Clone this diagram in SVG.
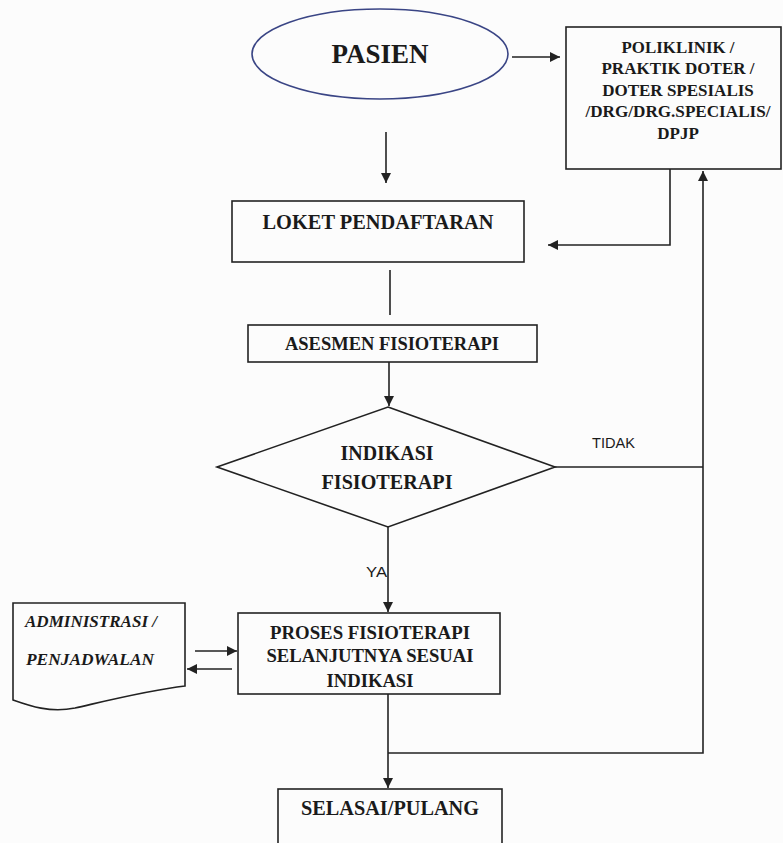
<svg xmlns="http://www.w3.org/2000/svg" width="783" height="843" viewBox="0 0 783 843">
<defs>
<style>
.box{fill:none;stroke:#222;stroke-width:1.6}
.ln{fill:none;stroke:#222;stroke-width:1.6}
.t{font-family:"Liberation Serif","Times New Roman",serif;font-weight:bold;fill:#1a1a1a;text-anchor:middle}
.ti{font-family:"Liberation Serif","Times New Roman",serif;font-weight:bold;font-style:italic;fill:#1a1a1a}
.s{font-family:"Liberation Sans",Arial,sans-serif;fill:#1a1a1a}
</style>
<marker id="ah" viewBox="0 0 10 10" refX="10" refY="5" markerWidth="10" markerHeight="10" markerUnits="userSpaceOnUse" orient="auto">
<path d="M0,0 L10,5 L0,10 z" fill="#222"/>
</marker>
</defs>
<rect x="0" y="0" width="783" height="843" fill="#fcfcfc"/>

<g id="pasien">
<ellipse cx="380" cy="54" rx="128" ry="45" fill="none" stroke="#3a4585" stroke-width="1.6"/>
<text class="t" x="380" y="63" font-size="28" textLength="97" lengthAdjust="spacingAndGlyphs">PASIEN</text>
</g>

<g id="poliklinik">
<rect class="box" x="566" y="27" width="215" height="142"/>
<text class="t" x="678" y="53" font-size="17" textLength="113" lengthAdjust="spacingAndGlyphs">POLIKLINIK /</text>
<text class="t" x="678" y="74" font-size="17">PRAKTIK DOTER /</text>
<text class="t" x="678" y="96" font-size="17">DOTER SPESIALIS</text>
<text class="t" x="678" y="117" font-size="17" textLength="185" lengthAdjust="spacingAndGlyphs">/DRG/DRG.SPECIALIS/</text>
<text class="t" x="678" y="139" font-size="17">DPJP</text>
</g>

<g id="loket">
<rect class="box" x="232" y="201" width="292" height="61"/>
<text class="t" x="378" y="229" font-size="20" textLength="231" lengthAdjust="spacingAndGlyphs">LOKET PENDAFTARAN</text>
</g>

<g id="asesmen">
<rect class="box" x="248" y="325" width="289" height="37"/>
<text class="t" x="392" y="350" font-size="18" textLength="214" lengthAdjust="spacingAndGlyphs">ASESMEN FISIOTERAPI</text>
</g>

<g id="indikasi">
<polygon class="box" points="388,407 555,467 388,527 217,467"/>
<text class="t" x="387" y="460" font-size="20" textLength="93" lengthAdjust="spacingAndGlyphs">INDIKASI</text>
<text class="t" x="387" y="489" font-size="20" textLength="131" lengthAdjust="spacingAndGlyphs">FISIOTERAPI</text>
</g>

<g id="proses">
<rect class="box" x="238" y="613" width="262" height="81"/>
<text class="t" x="370" y="639" font-size="19" textLength="200" lengthAdjust="spacingAndGlyphs">PROSES FISIOTERAPI</text>
<text class="t" x="370" y="662" font-size="19" textLength="207" lengthAdjust="spacingAndGlyphs">SELANJUTNYA SESUAI</text>
<text class="t" x="370" y="687" font-size="19" textLength="87" lengthAdjust="spacingAndGlyphs">INDIKASI</text>
</g>

<g id="administrasi">
<path class="box" d="M13,603 L185,603 L185,686 C150,690 110,700 75,708 C50,713 30,706 13,700 Z"/>
<text class="ti" x="25" y="627" font-size="16" textLength="132" lengthAdjust="spacingAndGlyphs">ADMINISTRASI /</text>
<text class="ti" x="26" y="665" font-size="16" textLength="128" lengthAdjust="spacingAndGlyphs">PENJADWALAN</text>
</g>

<g id="selesai">
<rect class="box" x="278" y="789" width="224" height="70"/>
<text class="t" x="390" y="815" font-size="20" textLength="178" lengthAdjust="spacingAndGlyphs">SELASAI/PULANG</text>
</g>

<g id="connectors">
<line class="ln" x1="512" y1="57" x2="560" y2="57" marker-end="url(#ah)"/>
<line class="ln" x1="386" y1="132" x2="386" y2="183" marker-end="url(#ah)"/>
<polyline class="ln" points="670,169 670,245 548,245" marker-end="url(#ah)"/>
<line class="ln" x1="390" y1="270" x2="390" y2="315"/>
<line class="ln" x1="389" y1="362" x2="389" y2="406" marker-end="url(#ah)"/>
<line class="ln" x1="555" y1="467" x2="703" y2="467"/>
<line class="ln" x1="388" y1="527" x2="388" y2="612" marker-end="url(#ah)"/>
<line class="ln" x1="195" y1="651" x2="237" y2="651" marker-end="url(#ah)"/>
<line class="ln" x1="232" y1="669" x2="187" y2="669" marker-end="url(#ah)"/>
<line class="ln" x1="388" y1="694" x2="388" y2="788" marker-end="url(#ah)"/>
<polyline class="ln" points="388,753 703,753 703,171" marker-end="url(#ah)"/>
<text class="s" x="592" y="448" font-size="14" textLength="43" lengthAdjust="spacingAndGlyphs">TIDAK</text>
<text class="s" x="366" y="577" font-size="14" textLength="21" lengthAdjust="spacingAndGlyphs">YA</text>
</g>
</svg>
